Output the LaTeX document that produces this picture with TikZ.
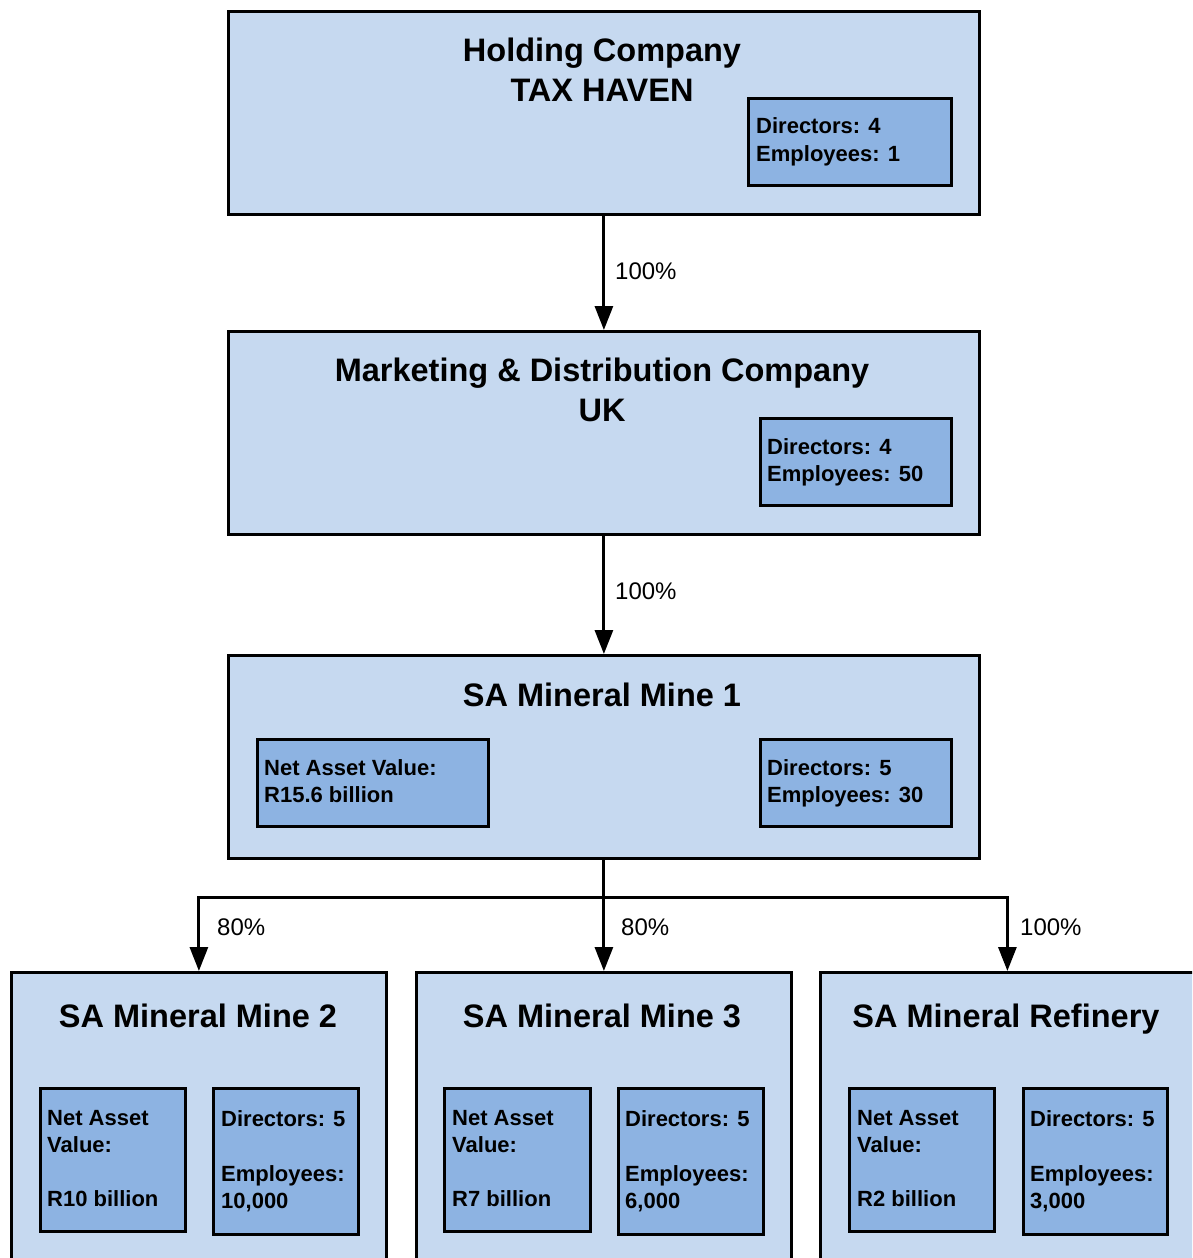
\documentclass[tikz,border=0pt]{standalone}
\usepackage{fontspec}
\setmainfont{Liberation Sans}
\usetikzlibrary{arrows.meta}
\definecolor{outerfill}{RGB}{198,217,240}
\definecolor{innerfill}{RGB}{141,179,226}
\begin{document}
\begin{tikzpicture}[x=1pt,y=-1pt,
  mainbox/.style={draw=black,fill=outerfill,line width=2.8pt,rectangle,anchor=north west,inner sep=0pt},
  inbox/.style={draw=black,fill=innerfill,line width=2.8pt,rectangle,anchor=north west,inner sep=0pt},
  ttl/.style={anchor=base,inner sep=0pt,font=\fontsize{32.5}{40}\selectfont\bfseries},
  itxt/.style={anchor=base west,inner sep=0pt,font=\fontsize{22}{27}\selectfont\bfseries},
  pct/.style={anchor=base west,inner sep=0pt,font=\fontsize{24}{27}\selectfont},
  conn/.style={line width=3pt},
  arr/.style={line width=3pt,-{Triangle[width=18pt,length=24pt]}}]
\useasboundingbox (0,0) rectangle (1192,1258);
\clip (0,0) rectangle (1192,1258);
\fill[white] (0,0) rectangle (1192,1258);
% Holding company
\node[mainbox,minimum width=751pt,minimum height=203pt] (hold) at (227,10) {};
\node[ttl] (holdt1) at (602,61) {Holding Company};
\node[ttl] (holdt2) at (602,101) {TAX HAVEN};
\node[inbox,minimum width=203pt,minimum height=87pt] (holdin) at (747,97) {};
\node[itxt] (holdd) at (756,133) {Directors: 4};
\node[itxt] (holde) at (756,161) {Employees: 1};
% Marketing
\node[mainbox,minimum width=751pt,minimum height=203pt] (mkt) at (227,330) {};
\node[ttl] (mktt1) at (602,381) {Marketing \& Distribution Company};
\node[ttl] (mktt2) at (602,421) {UK};
\node[inbox,minimum width=191pt,minimum height=87pt] (mktin) at (759,417) {};
\node[itxt] (mktd) at (767,454) {Directors: 4};
\node[itxt] (mkte) at (767,481) {Employees: 50};
% Mine 1
\node[mainbox,minimum width=751pt,minimum height=203pt] (m1) at (227,654) {};
\node[ttl] (m1t) at (602,706) {SA Mineral Mine 1};
\node[inbox,minimum width=231pt,minimum height=87pt] (m1a) at (256,738) {};
\node[itxt] (m1a1) at (264,775) {Net Asset Value:};
\node[itxt] (m1a2) at (264,802) {R15.6 billion};
\node[inbox,minimum width=191pt,minimum height=87pt] (m1b) at (759,738) {};
\node[itxt] (m1b1) at (767,775) {Directors: 5};
\node[itxt] (m1b2) at (767,802) {Employees: 30};
% Mine 2
\node[mainbox,minimum width=375pt,minimum height=330pt] (m2) at (10,971) {};
\node[ttl] (m2t) at (198,1027) {SA Mineral Mine 2};
\node[inbox,minimum width=145pt,minimum height=143pt] (m2a) at (39,1087) {};
\node[itxt] (m2a1) at (47,1125) {Net Asset};
\node[itxt] (m2a2) at (47,1152) {Value:};
\node[itxt] (m2a3) at (47,1206) {R10 billion};
\node[inbox,minimum width=145pt,minimum height=146pt] (m2b) at (212,1087) {};
\node[itxt] (m2b1) at (221,1126) {Directors: 5};
\node[itxt] (m2b2) at (221,1181) {Employees:};
\node[itxt] (m2b3) at (221,1208) {10,000};
% Mine 3
\node[mainbox,minimum width=375pt,minimum height=330pt] (m3) at (415,971) {};
\node[ttl] (m3t) at (602,1027) {SA Mineral Mine 3};
\node[inbox,minimum width=146pt,minimum height=143pt] (m3a) at (443,1087) {};
\node[itxt] (m3a1) at (452,1125) {Net Asset};
\node[itxt] (m3a2) at (452,1152) {Value:};
\node[itxt] (m3a3) at (452,1206) {R7 billion};
\node[inbox,minimum width=145pt,minimum height=146pt] (m3b) at (617,1087) {};
\node[itxt] (m3b1) at (625,1126) {Directors: 5};
\node[itxt] (m3b2) at (625,1181) {Employees:};
\node[itxt] (m3b3) at (625,1208) {6,000};
% Refinery
\node[mainbox,minimum width=374pt,minimum height=330pt] (ref) at (819,971) {};
\node[ttl] (reft) at (1006,1027) {SA Mineral Refinery};
\node[inbox,minimum width=145pt,minimum height=143pt] (refa) at (848,1087) {};
\node[itxt] (refa1) at (857,1125) {Net Asset};
\node[itxt] (refa2) at (857,1152) {Value:};
\node[itxt] (refa3) at (857,1206) {R2 billion};
\node[inbox,minimum width=144pt,minimum height=146pt] (refb) at (1022,1087) {};
\node[itxt] (refb1) at (1030,1126) {Directors: 5};
\node[itxt] (refb2) at (1030,1181) {Employees:};
\node[itxt] (refb3) at (1030,1208) {3,000};
% connectors
\draw[arr] (hold.south) -- (mkt.north);
\node[pct] (p1) at (615,279) {100\%};
\draw[arr] (mkt.south) -- (m1.north);
\node[pct] (p2) at (615,599) {100\%};
\coordinate (hline) at (0,897);
\coordinate (split) at (m1.south |- hline);
\draw[conn] (m1.south) -- (split);
\draw[arr] (split) -| (m2.north);
\draw[arr] (split) -- (m3.north);
\draw[arr] (split) -| (ref.north);
\node[pct] (p3) at (217,935) {80\%};
\node[pct] (p4) at (621,935) {80\%};
\node[pct] (p5) at (1020,935) {100\%};
\end{tikzpicture}
\end{document}
